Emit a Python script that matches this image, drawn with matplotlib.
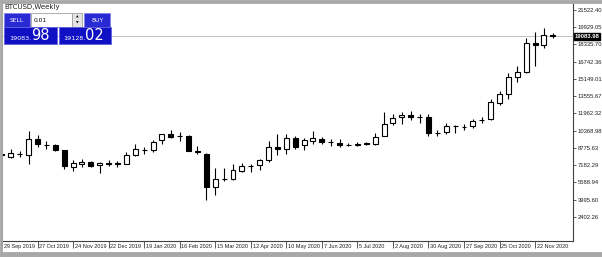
import matplotlib
matplotlib.use("Agg")
import matplotlib.pyplot as plt
import matplotlib.transforms as mtransforms
from matplotlib.patches import Rectangle
import numpy as np

# weekly BTCUSD candles, one per week starting 29 Sep 2019
opens = [8200, 7930, 8200, 8145, 9637, 9080, 9068, 8590, 7035, 7275,
         7510, 7160, 7330, 7340, 7340, 8110, 8570, 8590, 9490, 10026,
         9860, 9875, 8530, 8235, 5152, 5890, 5932, 6675, 7110, 7186,
         7634, 8830, 8680, 9670, 9040, 9425, 9637, 9320, 9276, 9050,
         9005, 9200, 9185, 9875, 11067, 11600, 11815, 11590, 11660, 10170,
         10260, 10820, 10700, 10770, 11350, 11424, 12950, 13754, 15313, 15760,
         18447, 18233, 19160]
highs = [8300, 8710, 8468, 10322, 9937, 9420, 9130, 8620, 7630, 7720,
         7570, 7480, 7630, 7570, 8440, 9130, 8830, 9490, 10080, 10475,
         10230, 9937, 8977, 8300, 6890, 6945, 7250, 7430, 7276, 7785,
         9425, 10026, 10026, 9875, 9730, 10385, 9785, 9637, 9637, 9220,
         9365, 9330, 10115, 12070, 11875, 12050, 12180, 11875, 11907, 10410,
         11067, 10920, 10975, 11430, 11600, 13310, 14050, 15700, 16353, 18924,
         19434, 19882, 19350]
lows = [8050, 7876, 7930, 7340, 8888, 8680, 8467, 6800, 6650, 7035,
        7035, 6450, 7097, 6980, 7250, 8020, 8235, 8380, 9130, 9730,
        9420, 8450, 8235, 3960, 4435, 5750, 5842, 6586, 6532, 6738,
        7480, 8145, 8235, 8680, 8590, 9130, 9185, 8977, 8830, 8920,
        8920, 9040, 9090, 9850, 10920, 10975, 11370, 11067, 9875, 9875,
        10080, 10170, 10410, 10630, 11067, 11350, 12714, 13252, 14865, 15700,
        16298, 18030, 18950]
closes = [8150, 8288, 8240, 9578, 9130, 9050, 8620, 7125, 7390, 7510,
          7097, 7390, 7350, 7350, 8082, 8650, 8610, 9365, 10026, 9810,
          9890, 8530, 8380, 5152, 5905, 5920, 6738, 7070, 7140, 7634,
          8830, 8700, 9730, 8830, 9490, 9670, 9336, 9350, 9040, 9030,
          9185, 9170, 9810, 10990, 11575, 11815, 11600, 11610, 10170, 10180,
          10832, 10840, 10670, 11280, 11380, 13010, 13754, 15313, 15760, 18447,
          18233, 19220, 19084]

date_pos = [0, 4, 8, 12, 16, 20, 24, 28, 32, 36, 40, 44, 48, 52, 56, 60]
date_labels = ["29 Sep 2019", "27 Oct 2019", "24 Nov 2019", "22 Dec 2019",
               "19 Jan 2020", "16 Feb 2020", "15 Mar 2020", "12 Apr 2020",
               "10 May 2020", "7 Jun 2020", "5 Jul 2020", "2 Aug 2020",
               "30 Aug 2020", "27 Sep 2020", "25 Oct 2020", "22 Nov 2020"]
price_ticks = [2402.26, 3995.60, 5588.94, 7182.29, 8775.63, 10368.98, 11962.32,
               13555.67, 15149.01, 16742.36, 18335.70, 19929.05, 21522.40]
last_price = 19083.98
bid_small, bid_big = "19083.", "98"
ask_small, ask_big = "19128.", "02"

small_font = "Liberation Sans"

W, H = 602, 257
fig = plt.figure(figsize=(W / 100, H / 100), dpi=100)
fig.patch.set_facecolor("white")


def fx(x):
    return x / W


def fy(y):
    return 1 - y / H


ax = fig.add_axes([fx(2), fy(241), fx(573) - fx(2), fy(3) - fy(241)])
ax.set_facecolor("white")

x = np.arange(len(opens))
o = np.array(opens, dtype=float)
c = np.array(closes, dtype=float)
bull = c >= o

ax.vlines(x, lows, highs, color="black", linewidth=0.8, zorder=2)
ax.bar(x[bull], (c - o)[bull], bottom=o[bull], width=0.56, color="white",
       edgecolor="black", linewidth=0.8, zorder=3)
ax.bar(x[~bull], (o - c)[~bull], bottom=c[~bull], width=0.56, color="black",
       edgecolor="black", linewidth=0.8, zorder=3)

ax.axhline(last_price, color="#c4c4c4", linewidth=0.7, zorder=1)

ax.set_xlim((2 - 1) / 8.9, (573 - 1) / 8.9)
ax.set_ylim(21522.4 - 238 * 89.63, 21522.4 + 7 * 89.63)

ax.yaxis.tick_right()
ax.set_yticks(price_ticks)
ax.set_yticklabels([f"{v:.2f}" for v in price_ticks], family=small_font,
                   fontsize=4.2, color="#202020")
ax.tick_params(axis="y", length=2.5, width=0.6, pad=0.8, color="#404040")
ax.set_xticks(date_pos)
ax.set_xticklabels([])
ax.tick_params(axis="x", length=5, width=0.6, color="#404040")

trans = mtransforms.blended_transform_factory(ax.transData, ax.transAxes)
for p, lab in zip(date_pos, date_labels):
    ax.text(p + 0.2, -0.014, lab, transform=trans, ha="left", va="top",
            family=small_font, fontsize=4.0, color="#202020")

trans_y = mtransforms.blended_transform_factory(ax.transAxes, ax.transData)
ax.text(1.003, last_price, f"{last_price:.2f}", transform=trans_y, ha="left",
        va="center", family=small_font, fontsize=4.2, color="white",
        fontweight="bold",
        bbox=dict(boxstyle="square,pad=0.15", facecolor="black",
                  edgecolor="black"))

ax.spines["top"].set_visible(False)
ax.spines["left"].set_color("#9a9a9a")
ax.spines["right"].set_color("#404040")
ax.spines["bottom"].set_color("#404040")
ax.spines["right"].set_linewidth(0.8)
ax.spines["bottom"].set_linewidth(0.8)


def box(x0, y0, x1, y1, fc, ec=None, lw=0.6):
    fig.patches.append(Rectangle((fx(x0), fy(y1)), fx(x1) - fx(x0),
                                 fy(y0) - fy(y1), transform=fig.transFigure,
                                 facecolor=fc, edgecolor=ec if ec else fc,
                                 linewidth=lw, zorder=5))


# window border
box(0, 0, 602, 2.7, "#a8a8a8")
box(0, 251.5, 602, 257, "#a8a8a8")
box(0, 0, 1.7, 257, "#a8a8a8")

fig.text(fx(4), fy(7), "BTCUSD,Weekly", fontsize=5, color="#202020",
         ha="left", va="center", zorder=6)

# one click trading panel
box(4, 13, 30, 26.5, "#2a2ad4", "#8080f0")
box(31, 13, 72, 26.5, "white", "#a0a0a0")
box(72, 13, 82, 26.5, "#e4e4e4", "#a0a0a0")
box(84, 13, 110, 26.5, "#2a2ad4", "#8080f0")
box(4, 27, 57, 44, "#1010c4", "#6060e0")
box(58.5, 27, 111, 44, "#1010c4", "#6060e0")

fig.text(fx(17), fy(20), "SELL", fontsize=4.3, color="white", ha="center",
         va="center", zorder=6)
fig.text(fx(97), fy(20), "BUY", fontsize=4.3, color="white", ha="center",
         va="center", zorder=6)
fig.text(fx(34), fy(20), "0.01", fontsize=4.3, color="black", ha="left",
         va="center", zorder=6)
fig.text(fx(77), fy(17), "\u25b2", fontsize=2.5, color="black", ha="center",
         va="center", zorder=6)
fig.text(fx(77), fy(23), "\u25bc", fontsize=2.5, color="black", ha="center",
         va="center", zorder=6)
fig.text(fx(31), fy(40), bid_small, fontsize=4.6, color="white", ha="right",
         va="baseline", zorder=6)
fig.text(fx(31.5), fy(40.5), bid_big, fontsize=10.5, color="white", ha="left",
         va="baseline", zorder=6)
fig.text(fx(85), fy(40), ask_small, fontsize=4.6, color="white", ha="right",
         va="baseline", zorder=6)
fig.text(fx(85.5), fy(40.5), ask_big, fontsize=10.5, color="white", ha="left",
         va="baseline", zorder=6)

fig.savefig("out.png", dpi=100)
